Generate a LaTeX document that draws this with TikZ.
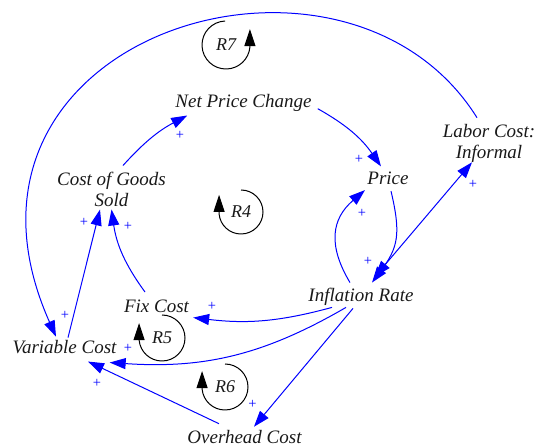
\documentclass[tikz,border=0pt]{standalone}
\usepackage{fontspec}
\setmainfont{Liberation Serif}
\usetikzlibrary{arrows.meta}

\begin{document}
\begin{tikzpicture}[x=1pt, y=1pt,
  factor/.style={font=\fontsize{19}{21}\selectfont\itshape, align=center, inner sep=1pt, text=black!90},
  pol/.style={font=\fontsize{14.5}{14.5}\selectfont, text=blue, inner sep=0pt},
  link/.style={draw=blue, line width=1pt, -{Triangle[length=16pt, width=11pt]}},
  looplabel/.style={font=\fontsize{18}{18}\selectfont\itshape, inner sep=0pt, text=black!90},
  loopline/.style={line width=1pt, -{Triangle[length=17pt, width=11pt]}}]
\useasboundingbox (0,0) rectangle (536,447);

\node (npc) at (243.5, 344.3) [factor] {Net Price Change};
\node (price) at (388, 268.5) [factor] {Price};
\node (labor) at (489, 304) [factor] {Labor Cost:\\Informal};
\node (cogs) at (111.5, 258) [factor] {Cost of Goods\\Sold};
\node (infl) at (361, 150.5) [factor] {Inflation Rate};
\node (fix) at (156.5, 140.4) [factor] {Fix Cost};
\node (var) at (64.5, 100.4) [factor] {Variable Cost};
\node (over) at (244.5, 10.4) [factor] {Overhead Cost};

% causal links
\draw[link] ([xshift=11.5pt,yshift=5pt]cogs.north) to[bend left=10] ([xshift=13pt,yshift=-3pt]npc.south west);
\draw[link] ([xshift=5pt,yshift=-6pt]npc.east) to[bend left=13] ([xshift=-7pt,yshift=4.5pt]price.north);
\draw[link] ([xshift=3pt,yshift=-5pt]price.south) to[bend left=25, looseness=1.2] ([xshift=11pt,yshift=4pt]infl.north);
\draw[link] ([xshift=-11pt,yshift=4pt]infl.north) to[bend left=40, looseness=1.2] ([xshift=-23pt,yshift=-4pt]price.south);
\draw[link, {Triangle[length=16pt, width=11pt]}-{Triangle[length=16pt, width=11pt]}] ([xshift=14pt,yshift=10pt]infl.north) -- ([xshift=-17pt,yshift=1pt]labor.south);
\draw[link] ([xshift=-29pt,yshift=-1pt]infl.south) to[bend left=11] ([xshift=3pt,yshift=-11pt]fix.east);
\draw[link] ([xshift=-15pt,yshift=-1pt]infl.south) to[bend left=17] ([xshift=-8pt,yshift=-8pt]var.south east);
\draw[link] ([xshift=-8pt,yshift=-2pt]infl.south) -- ([xshift=9.5pt,yshift=2pt]over.north);
\draw[link] ([xshift=-25.5pt,yshift=5pt]over.north) -- ([xshift=23.5pt,yshift=-7pt]var.south);
\draw[link] ([xshift=3.5pt,yshift=1pt]var.north) -- ([xshift=-11.5pt,yshift=-2pt]cogs.south);
\draw[link] ([xshift=-11.5pt,yshift=7pt]fix.north) to[bend left=14] ([yshift=-2pt]cogs.south);
\draw[link] ([xshift=-12pt,yshift=5pt]labor.north) .. controls +(122:250) and +(114:330) .. ([xshift=-8.5pt,yshift=2pt]var.north);

% polarities
\node (p1) at (180, 312) [pol] {+};
\node (p2) at (359, 288) [pol] {+};
\node (p3) at (362, 234) [pol] {+};
\node (p4) at (368, 186) [pol] {+};
\node (p5) at (473, 263) [pol] {+};
\node (p6) at (84, 225) [pol] {+};
\node (p7) at (128, 221) [pol] {+};
\node (p8) at (65, 132) [pol] {+};
\node (p9) at (212, 141) [pol] {+};
\node (p10) at (128, 99) [pol] {+};
\node (p11) at (97, 64) [pol] {+};
\node (p12) at (252.5, 43) [pol] {+};

% loops
\node (r7) at (226, 402) [looplabel] {R7};
\draw[loopline] ([shift={(92:24)}]r7.center) arc[start angle=92, end angle=355, radius=24] -- ++(0,18);
\node (r4) at (241, 235) [looplabel] {R4};
\draw[loopline] ([shift={(90:22)}]r4.center) arc[start angle=90, end angle=-175, radius=22] -- ++(0,19);
\node (r5) at (162, 109) [looplabel] {R5};
\draw[loopline] ([shift={(90:23)}]r5.center) arc[start angle=90, end angle=-175, radius=23] -- ++(0,17);
\node (r6) at (225, 60) [looplabel] {R6};
\draw[loopline] ([shift={(90:23)}]r6.center) arc[start angle=90, end angle=-175, radius=23] -- ++(0,18);
\end{tikzpicture}
\end{document}
